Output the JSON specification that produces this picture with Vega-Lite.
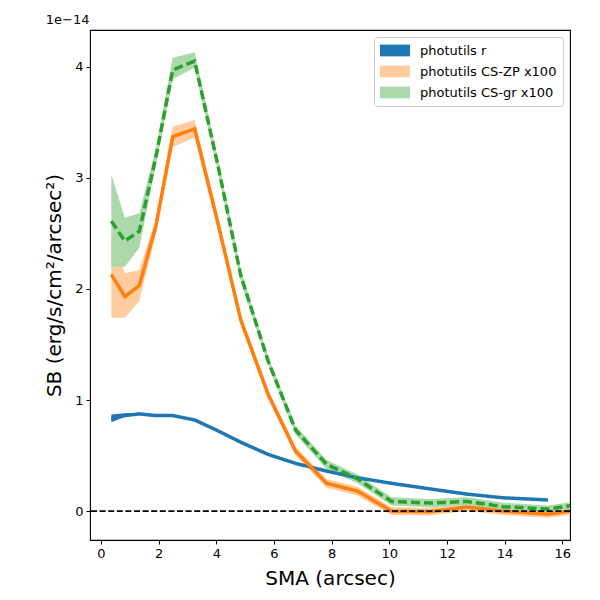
{
  "$schema": "https://vega.github.io/schema/vega-lite/v6.json",
  "width": 480,
  "height": 510,
  "autosize": "none",
  "padding": {"left": 90, "top": 30, "right": 30, "bottom": 60},
  "background": "white",
  "title": {"text": "1e\u221214", "anchor": "start", "fontSize": 13, "fontWeight": "normal", "font": "DejaVu Sans", "offset": 3, "dx": 1, "color": "black"},
  "config": {
    "font": "DejaVu Sans",
    "view": {"stroke": "black", "strokeWidth": 1.1},
    "axis": {"grid": false, "domain": false, "tickColor": "black", "tickSize": 4, "tickWidth": 1, "labelFontSize": 13, "labelColor": "black", "titleFontSize": 20, "titleFontWeight": "normal", "titleColor": "black", "labelFont": "DejaVu Sans", "titleFont": "DejaVu Sans"}
  },
  "data": {"values": [
    {"sma": 0.36, "series": "photutils r", "sb": 0.83, "lo": 0.80, "hi": 0.87},
    {"sma": 0.83, "series": "photutils r", "sb": 0.86, "lo": 0.85, "hi": 0.88},
    {"sma": 1.33, "series": "photutils r", "sb": 0.875, "lo": 0.865, "hi": 0.885},
    {"sma": 1.9, "series": "photutils r", "sb": 0.86, "lo": 0.85, "hi": 0.87},
    {"sma": 2.49, "series": "photutils r", "sb": 0.86, "lo": 0.85, "hi": 0.87},
    {"sma": 3.25, "series": "photutils r", "sb": 0.82, "lo": 0.81, "hi": 0.83},
    {"sma": 4.0, "series": "photutils r", "sb": 0.73, "lo": 0.72, "hi": 0.74},
    {"sma": 4.85, "series": "photutils r", "sb": 0.62, "lo": 0.61, "hi": 0.63},
    {"sma": 5.8, "series": "photutils r", "sb": 0.51, "lo": 0.50, "hi": 0.52},
    {"sma": 6.75, "series": "photutils r", "sb": 0.43, "lo": 0.42, "hi": 0.44},
    {"sma": 7.83, "series": "photutils r", "sb": 0.36, "lo": 0.35, "hi": 0.37},
    {"sma": 8.9, "series": "photutils r", "sb": 0.30, "lo": 0.29, "hi": 0.31},
    {"sma": 10.08, "series": "photutils r", "sb": 0.25, "lo": 0.24, "hi": 0.26},
    {"sma": 11.41, "series": "photutils r", "sb": 0.20, "lo": 0.19, "hi": 0.21},
    {"sma": 12.69, "series": "photutils r", "sb": 0.153, "lo": 0.145, "hi": 0.16},
    {"sma": 13.95, "series": "photutils r", "sb": 0.12, "lo": 0.112, "hi": 0.128},
    {"sma": 15.5, "series": "photutils r", "sb": 0.10, "lo": 0.092, "hi": 0.108},
    {"sma": 0.36, "series": "photutils CS-ZP x100", "sb": 2.13, "lo": 1.74, "hi": 2.50},
    {"sma": 0.83, "series": "photutils CS-ZP x100", "sb": 1.93, "lo": 1.74, "hi": 2.14},
    {"sma": 1.33, "series": "photutils CS-ZP x100", "sb": 2.03, "lo": 1.89, "hi": 2.17},
    {"sma": 1.9, "series": "photutils CS-ZP x100", "sb": 2.56, "lo": 2.49, "hi": 2.63},
    {"sma": 2.49, "series": "photutils CS-ZP x100", "sb": 3.37, "lo": 3.28, "hi": 3.46},
    {"sma": 3.25, "series": "photutils CS-ZP x100", "sb": 3.44, "lo": 3.36, "hi": 3.52},
    {"sma": 4.05, "series": "photutils CS-ZP x100", "sb": 2.60, "lo": 2.54, "hi": 2.66},
    {"sma": 4.85, "series": "photutils CS-ZP x100", "sb": 1.72, "lo": 1.67, "hi": 1.77},
    {"sma": 5.8, "series": "photutils CS-ZP x100", "sb": 1.05, "lo": 1.01, "hi": 1.09},
    {"sma": 6.75, "series": "photutils CS-ZP x100", "sb": 0.54, "lo": 0.50, "hi": 0.58},
    {"sma": 7.83, "series": "photutils CS-ZP x100", "sb": 0.25, "lo": 0.21, "hi": 0.29},
    {"sma": 8.9, "series": "photutils CS-ZP x100", "sb": 0.18, "lo": 0.14, "hi": 0.22},
    {"sma": 10.08, "series": "photutils CS-ZP x100", "sb": 0.0, "lo": -0.035, "hi": 0.035},
    {"sma": 11.41, "series": "photutils CS-ZP x100", "sb": -0.005, "lo": -0.04, "hi": 0.03},
    {"sma": 12.69, "series": "photutils CS-ZP x100", "sb": 0.036, "lo": 0.0, "hi": 0.07},
    {"sma": 13.95, "series": "photutils CS-ZP x100", "sb": 0.0, "lo": -0.035, "hi": 0.035},
    {"sma": 15.5, "series": "photutils CS-ZP x100", "sb": -0.027, "lo": -0.06, "hi": 0.005},
    {"sma": 17.0, "series": "photutils CS-ZP x100", "sb": 0.025, "lo": -0.01, "hi": 0.06},
    {"sma": 0.36, "series": "photutils CS-gr x100", "sb": 2.61, "lo": 2.20, "hi": 3.03},
    {"sma": 0.83, "series": "photutils CS-gr x100", "sb": 2.43, "lo": 2.20, "hi": 2.64},
    {"sma": 1.33, "series": "photutils CS-gr x100", "sb": 2.52, "lo": 2.37, "hi": 2.68},
    {"sma": 1.9, "series": "photutils CS-gr x100", "sb": 3.18, "lo": 3.11, "hi": 3.26},
    {"sma": 2.49, "series": "photutils CS-gr x100", "sb": 3.97, "lo": 3.89, "hi": 4.08},
    {"sma": 3.25, "series": "photutils CS-gr x100", "sb": 4.05, "lo": 3.99, "hi": 4.13},
    {"sma": 4.05, "series": "photutils CS-gr x100", "sb": 3.12, "lo": 3.06, "hi": 3.18},
    {"sma": 4.85, "series": "photutils CS-gr x100", "sb": 2.12, "lo": 2.07, "hi": 2.17},
    {"sma": 5.8, "series": "photutils CS-gr x100", "sb": 1.35, "lo": 1.31, "hi": 1.39},
    {"sma": 6.75, "series": "photutils CS-gr x100", "sb": 0.73, "lo": 0.69, "hi": 0.77},
    {"sma": 7.83, "series": "photutils CS-gr x100", "sb": 0.42, "lo": 0.38, "hi": 0.46},
    {"sma": 8.9, "series": "photutils CS-gr x100", "sb": 0.29, "lo": 0.25, "hi": 0.33},
    {"sma": 10.08, "series": "photutils CS-gr x100", "sb": 0.087, "lo": 0.05, "hi": 0.125},
    {"sma": 11.41, "series": "photutils CS-gr x100", "sb": 0.072, "lo": 0.035, "hi": 0.11},
    {"sma": 12.69, "series": "photutils CS-gr x100", "sb": 0.087, "lo": 0.05, "hi": 0.125},
    {"sma": 13.95, "series": "photutils CS-gr x100", "sb": 0.04, "lo": 0.005, "hi": 0.075},
    {"sma": 15.5, "series": "photutils CS-gr x100", "sb": 0.018, "lo": -0.015, "hi": 0.05},
    {"sma": 17.0, "series": "photutils CS-gr x100", "sb": 0.076, "lo": 0.04, "hi": 0.11}
  ]},
  "layer": [
    {
      "mark": {"type": "area", "clip": true, "opacity": 1},
      "encoding": {
        "x": {"field": "sma", "type": "quantitative", "scale": {"domain": [-0.38, 16.27], "nice": false, "zero": false}, "axis": {"values": [0, 2, 4, 6, 8, 10, 12, 14, 16], "format": "d", "title": "SMA (arcsec)", "labelPadding": 3, "titlePadding": 8}},
        "y": {"field": "lo", "type": "quantitative", "scale": {"domain": [-0.26, 4.33], "nice": false, "zero": false}, "axis": {"values": [0, 1, 2, 3, 4], "format": "d", "title": "SB (erg/s/cm\u00b2/arcsec\u00b2)", "labelPadding": 3, "titlePadding": 10}},
        "y2": {"field": "hi"},
        "color": {
          "field": "series", "type": "nominal",
          "scale": {"domain": ["photutils r", "photutils CS-ZP x100", "photutils CS-gr x100"], "range": ["#1f77b4", "#ffcc9f", "#abd9ab"]},
          "legend": {
            "title": null, "orient": "top-right", "offset": 7, "padding": 6,
            "fillColor": "white", "strokeColor": "#cccccc", "cornerRadius": 3,
            "symbolType": "M-1,-0.78H3V0.78H-1Z", "symbolSize": 225, "symbolStrokeWidth": 0, "symbolOpacity": 1,
            "labelFontSize": 13, "labelFont": "DejaVu Sans", "labelColor": "black", "labelOffset": 25, "rowPadding": 6
          }
        }
      }
    },
    {
      "mark": {"type": "line", "clip": true, "strokeWidth": 3.5},
      "encoding": {
        "x": {"field": "sma", "type": "quantitative"},
        "y": {"field": "sb", "type": "quantitative"},
        "stroke": {"field": "series", "type": "nominal", "scale": {"domain": ["photutils r", "photutils CS-ZP x100", "photutils CS-gr x100"], "range": ["#1f77b4", "#ff7f0e", "#2ca02c"]}, "legend": null},
        "strokeDash": {"field": "series", "type": "nominal", "scale": {"domain": ["photutils r", "photutils CS-ZP x100", "photutils CS-gr x100"], "range": [[1, 0], [1, 0], [9, 4]]}, "legend": null}
      }
    },
    {
      "data": {"values": [{"zero": 0}]},
      "mark": {"type": "rule", "color": "black", "strokeWidth": 1.6, "strokeDash": [6, 2.6]},
      "encoding": {"y": {"field": "zero", "type": "quantitative"}}
    }
  ]
}
